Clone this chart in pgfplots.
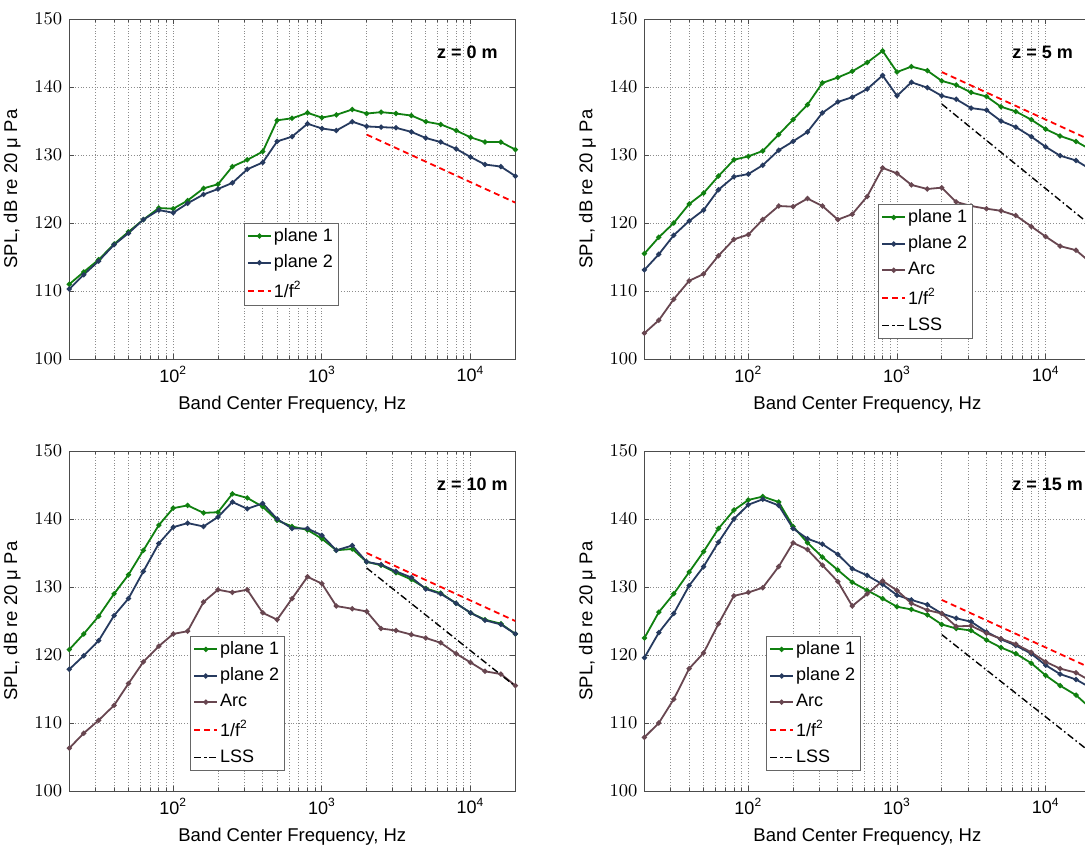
\documentclass[border=0pt]{standalone}
\usepackage{fontspec}
\setmainfont{Liberation Sans}
\usepackage{pgfplots}
\usepackage{pgfplotstable}
\pgfplotsset{compat=1.18}

\definecolor{pone}{RGB}{16,128,16}
\definecolor{ptwo}{RGB}{38,58,95}
\definecolor{parc}{RGB}{104,70,80}
\newcommand{\fs}{\fontsize{9}{10.5}\selectfont}
\newcommand{\fl}{\fontsize{9.25}{11}\selectfont}

\pgfplotstableread{
f p1 p2
20 111.0 110.3
25 112.8 112.4
31.5 114.6 114.4
40 116.9 116.8
50 118.7 118.5
63 120.5 120.5
80 122.2 121.9
100 122.1 121.5
125 123.3 122.9
160 125.1 124.2
200 125.7 125.0
250 128.3 125.9
315 129.3 127.9
400 130.5 128.9
500 135.1 132.0
630 135.4 132.7
800 136.2 134.6
1000 135.5 133.9
1250 135.9 133.6
1600 136.7 134.9
2000 136.1 134.2
2500 136.3 134.1
3150 136.1 134.0
4000 135.8 133.4
5000 134.9 132.5
6300 134.5 131.9
8000 133.6 130.9
10000 132.6 129.7
12500 131.9 128.6
16000 131.9 128.3
20000 130.8 126.9
}\zzero

\pgfplotstableread{
f p1 p2 arc
20 115.5 113.1 103.8
25 117.9 115.4 105.7
31.5 120.0 118.2 108.8
40 122.8 120.3 111.5
50 124.4 121.9 112.5
63 126.9 124.9 115.2
80 129.3 126.8 117.6
100 129.8 127.2 118.3
125 130.6 128.5 120.5
160 133.0 130.7 122.5
200 135.2 132.0 122.4
250 137.4 133.4 123.6
315 140.6 136.2 122.5
400 141.4 137.8 120.5
500 142.3 138.5 121.3
630 143.6 139.7 123.9
800 145.3 141.7 128.1
1000 142.2 138.7 127.3
1250 143.0 140.7 125.6
1600 142.4 139.9 125.0
2000 140.9 138.7 125.2
2500 140.3 138.2 123.1
3150 139.2 136.9 122.5
4000 138.6 136.6 122.1
5000 137.1 135.0 121.8
6300 136.4 134.1 121.1
8000 135.2 132.7 119.5
10000 133.8 131.2 118.0
12500 132.8 129.9 116.6
16000 132.0 129.2 116.0
20000 130.8 127.9 114.2
}\zfive

\pgfplotstableread{
f p1 p2 arc
20 120.8 117.9 106.3
25 123.1 119.9 108.5
31.5 125.7 122.1 110.4
40 129.0 125.8 112.6
50 131.8 128.3 115.8
63 135.4 132.3 119.0
80 139.1 136.4 121.3
100 141.6 138.8 123.1
125 142.0 139.4 123.5
160 140.9 138.9 127.8
200 141.0 140.3 129.6
250 143.7 142.5 129.2
315 143.1 141.5 129.6
400 141.8 142.3 126.2
500 139.8 140.0 125.2
630 138.9 138.6 128.3
800 138.4 138.6 131.5
1000 137.1 137.6 130.5
1250 135.4 135.4 127.2
1600 135.6 136.1 126.8
2000 133.7 133.7 126.4
2500 133.2 133.3 123.9
3150 132.1 132.3 123.6
4000 131.1 131.4 123.0
5000 129.8 129.7 122.5
6300 129.1 129.0 121.8
8000 127.6 127.6 120.2
10000 126.2 126.2 118.9
12500 125.2 125.1 117.6
16000 124.6 124.5 117.2
20000 123.1 123.1 115.5
}\zten

\pgfplotstableread{
f p1 p2 arc
20 122.5 119.6 107.9
25 126.3 123.3 110.0
31.5 129.0 126.1 113.5
40 132.2 130.2 118.0
50 135.2 133.0 120.3
63 138.6 136.6 124.6
80 141.3 140.0 128.7
100 142.8 142.1 129.2
125 143.3 142.9 129.9
160 142.5 142.0 133.0
200 138.9 138.6 136.5
250 136.5 137.1 135.5
315 134.4 136.3 133.2
400 132.5 134.8 130.8
500 130.7 132.7 127.2
630 129.5 131.7 129.0
800 128.3 130.4 130.9
1000 127.1 128.8 129.5
1250 126.7 128.1 127.6
1600 125.9 127.4 126.6
2000 124.5 126.1 126.1
2500 123.9 125.4 124.2
3150 123.6 124.9 124.3
4000 122.2 123.4 123.2
5000 121.1 122.3 122.4
6300 120.2 121.4 121.6
8000 118.8 120.2 120.4
10000 117.0 118.5 119.0
12500 115.5 117.2 118.0
16000 114.1 116.4 117.4
20000 112.2 115.2 116.2
}\zfifteen

\pgfplotsset{
  spl/.style={
    scale only axis, width=223pt, height=170pt, anchor=south west,
    xmin=20, xmax=20000, ymin=100, ymax=150,
    ytick={100,110,120,130,140,150},
    xtick={100,1000,10000},
    xticklabels={10\textsuperscript{2},10\textsuperscript{3},10\textsuperscript{4}},
    minor xtick={20,30,40,50,60,70,80,90,200,300,400,500,600,700,800,900,2000,3000,4000,5000,6000,7000,8000,9000},
    xmajorgrids, xminorgrids, ymajorgrids,
    grid style={densely dotted, black!45, line width=0.4pt},
    minor grid style={densely dotted, black!45, line width=0.4pt},
    tick align=inside,
    major tick length=2.5pt, minor tick length=1.5pt,
    tick style={black!70, line width=0.4pt},
    axis line style={black!70, line width=0.5pt},
    tick label style={font=\fs},
    label style={font=\fl},
    xlabel={Band Center Frequency, Hz},
    ylabel={SPL, dB re 20 μ Pa},
    legend cell align=left,
    legend style={font=\fs, draw=black!60, line width=0.4pt, fill=white,
      inner xsep=1.5pt, inner ysep=1.5pt, row sep=3.25pt, nodes={inner sep=1pt}},
    legend image code/.code={\draw[mark repeat=2,mark phase=2,##1] plot coordinates {(0pt,0pt) (5.75pt,0pt) (11.5pt,0pt)};},
  },
  lp1/.style={color=pone, line width=0.9pt, mark=*, mark size=0.8pt},
  lp2/.style={color=ptwo, line width=0.9pt, mark=*, mark size=0.8pt},
  larc/.style={color=parc, line width=0.9pt, mark=*, mark size=0.8pt},
  lred/.style={color=red, line width=0.9pt, dash pattern=on 3pt off 2pt, mark=none},
  llss/.style={color=black, line width=0.7pt, dash pattern=on 3.5pt off 1.5pt on 0.8pt off 1.5pt, mark=none},
}

\begin{document}
\begin{tikzpicture}
\path[use as bounding box, clip] (0,0) rectangle (542.5pt,424pt);

% z = 0 m
\begin{semilogxaxis}[spl, at={(34.65pt,244.5pt)},
  legend style={at={(0.391,0.401)}, anchor=north west}]
\addplot[lp1] table[x=f,y=p1] {\zzero};
\addplot[lp2] table[x=f,y=p2] {\zzero};
\addplot[lred] coordinates {(2000,133.0) (20000,123.0)};
\legend{plane 1, plane 2, 1/f\textsuperscript{2}}
\node[anchor=west, font=\fs\bfseries] at (rel axis cs:0.809,0.903) {z = 0 m};
\end{semilogxaxis}

% z = 5 m
\begin{semilogxaxis}[spl, at={(322.2pt,244.5pt)},
  legend style={at={(0.5236,0.456)}, anchor=north west}]
\addplot[lp1] table[x=f,y=p1] {\zfive};
\addplot[lp2] table[x=f,y=p2] {\zfive};
\addplot[larc] table[x=f,y=arc] {\zfive};
\addplot[lred] coordinates {(2000,142.2) (20000,132.2)};
\addplot[llss] coordinates {(2000,137.5) (20000,119.7)};
\legend{plane 1, plane 2, Arc, 1/f\textsuperscript{2}, LSS}
\node[anchor=west, font=\fs\bfseries] at (rel axis cs:0.809,0.903) {z = 5 m};
\end{semilogxaxis}

% z = 10 m
\begin{semilogxaxis}[spl, at={(34.65pt,28.5pt)},
  legend style={at={(0.2706,0.456)}, anchor=north west}]
\addplot[lp1] table[x=f,y=p1] {\zten};
\addplot[lp2] table[x=f,y=p2] {\zten};
\addplot[larc] table[x=f,y=arc] {\zten};
\addplot[lred] coordinates {(2000,135.0) (20000,125.0)};
\addplot[llss] coordinates {(2000,132.8) (20000,115.4)};
\legend{plane 1, plane 2, Arc, 1/f\textsuperscript{2}, LSS}
\node[anchor=west, font=\fs\bfseries] at (rel axis cs:0.809,0.903) {z = 10 m};
\end{semilogxaxis}

% z = 15 m
\begin{semilogxaxis}[spl, at={(322.2pt,28.5pt)},
  legend style={at={(0.2724,0.456)}, anchor=north west}]
\addplot[lp1] table[x=f,y=p1] {\zfifteen};
\addplot[lp2] table[x=f,y=p2] {\zfifteen};
\addplot[larc] table[x=f,y=arc] {\zfifteen};
\addplot[lred] coordinates {(2000,128.1) (20000,118.1)};
\addplot[llss] coordinates {(2000,123.0) (20000,105.7)};
\legend{plane 1, plane 2, Arc, 1/f\textsuperscript{2}, LSS}
\node[anchor=west, font=\fs\bfseries] at (rel axis cs:0.809,0.903) {z = 15 m};
\end{semilogxaxis}
\end{tikzpicture}
\end{document}
